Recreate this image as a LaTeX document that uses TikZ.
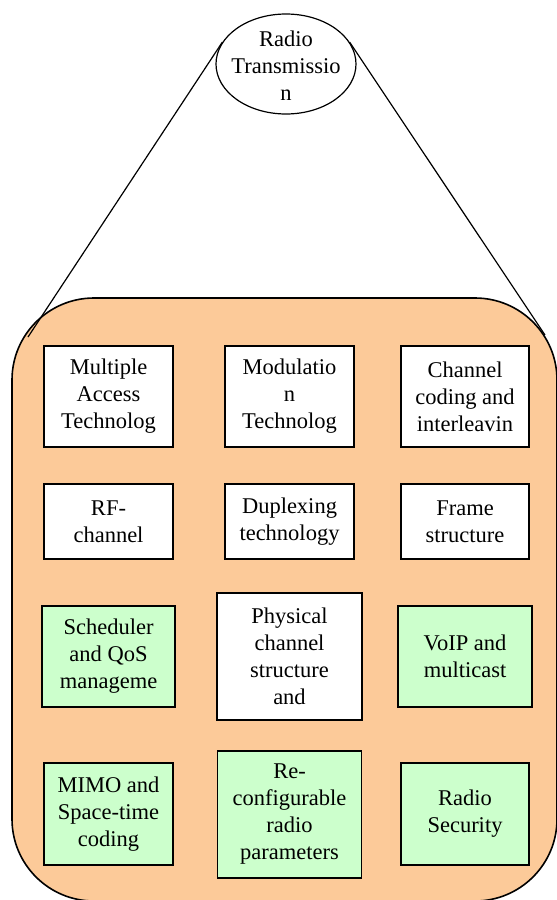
\documentclass[tikz,border=0pt]{standalone}
\usepackage{fontspec}
\setmainfont{Liberation Serif}
\usetikzlibrary{shapes.geometric}
\definecolor{peach}{RGB}{252,202,153}
\definecolor{palegreen}{RGB}{204,255,204}
\begin{document}
\begin{tikzpicture}[x=1pt,y=-1pt,
	txt/.style={font=\fontsize{22.5}{27}\selectfont,align=center,inner sep=0pt},
	blk/.style={txt,draw,line width=1.8pt,fill=white},
	grnblk/.style={blk,fill=palegreen}]
	\useasboundingbox (0,0) rectangle (557,900);
	\draw[line width=1.6pt,fill=peach,rounded corners=82pt] (12,298) rectangle (557,901);
	\node[draw,ellipse,line width=1.2pt,minimum width=140pt,minimum height=100pt] (radio) at (286,64) {};
	\node[txt] (radiotxt) at (286,66) {Radio\\Transmissio\\n};
	\coordinate (lc) at (28,337);
	\coordinate (rc) at (545,335);
	\draw[line width=1.2pt] (radio.161) -- (lc);
	\draw[line width=1.2pt] (radio.19) -- (rc);
	\node[blk,minimum width=129pt,minimum height=101pt] (multacc) at (108.5,396.5) {Multiple\\Access\\Technolog};
	\node[blk,minimum width=129pt,minimum height=101pt] (modul) at (289.5,396.5) {Modulatio\\n\\Technolog};
	\node[blk,minimum width=128pt,minimum height=101pt] (chcod) at (465,396.5) {Channel\\coding and\\interleavin};
	\node[blk,minimum width=129pt,minimum height=75pt] (rfch) at (108.5,521.5) {RF-\\channel};
	\node[blk,minimum width=129pt,minimum height=75pt] (duplex) at (289.5,521.5) {Duplexing\\technology};
	\node[blk,minimum width=128pt,minimum height=75pt] (frame) at (465,521.5) {Frame\\structure};
	\node[grnblk,minimum width=133pt,minimum height=101pt] (sched) at (108.5,656.5) {Scheduler\\and QoS\\manageme};
	\node[blk,minimum width=145pt,minimum height=127pt] (physch) at (289.5,656.5) {Physical\\channel\\structure\\and};
	\node[grnblk,minimum width=134pt,minimum height=101pt] (voip) at (465,656.5) {VoIP and\\multicast};
	\node[grnblk,minimum width=129pt,minimum height=102pt] (mimo) at (108.5,814) {MIMO and\\Space-time\\coding};
	\node[grnblk,minimum width=144pt,minimum height=127pt] (reconf) at (289.5,814.5) {Re-\\configurable\\radio\\parameters};
	\node[grnblk,minimum width=128pt,minimum height=102pt] (radsec) at (465,814) {Radio\\Security};
\end{tikzpicture}
\end{document}
